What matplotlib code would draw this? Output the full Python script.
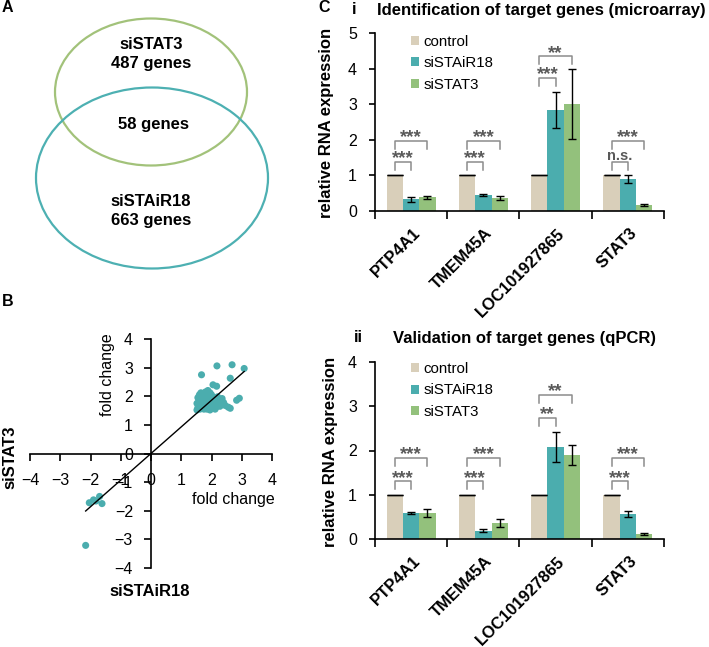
import numpy as np
import matplotlib.pyplot as plt
from matplotlib.patches import Ellipse
from matplotlib.transforms import ScaledTranslation

plt.rcParams['font.family'] = ['Liberation Sans', 'DejaVu Sans']

W, H = 709, 647
DPI = 100

# couleurs
C_CTRL = '#D9CFBA'
C_AIR = '#4BADAE'
C_STAT = '#93C17C'
C_VENN_G = '#A2C27A'
C_VENN_B = '#4DB0B2'
C_SIG = '#595959'

# --- Venn (A) ---
venn_labels = ['siSTAT3', 'siSTAiR18']
venn_counts = [487, 663]
venn_overlap = 58

# --- nuage de points (B) : fold change siSTAiR18 (x) vs siSTAT3 (y) ---
fc_stair18 = [3.08, 2.68, 2.18, 1.67, 2.62, 2.05, 2.17, 2.92, 2.83, 2.62, 2.55,
              1.55, 1.60, 1.65, 1.72, 1.80, 1.88, 1.95, 1.85, 1.75, 1.62, 1.52,
              1.58, 1.55, 1.52, 1.62, 1.70, 1.78, 1.68, 1.90, 1.98, 2.05, 2.10,
              2.02, 1.92, 1.85, 1.95, 2.05, 2.15, 2.22, 2.30, 2.35, 2.40, 2.28,
              2.12, 2.45, 2.20, 1.65, 1.75, 1.82, 1.58, 2.00,
              -1.70, -1.90, -2.04, -1.62, -1.82, -2.16]
fc_stat3 = [2.97, 3.10, 3.06, 2.75, 2.63, 2.40, 2.35, 1.93, 1.86, 1.58, 1.62,
            1.95, 2.05, 2.12, 2.08, 2.15, 2.20, 2.12, 1.98, 1.92, 1.88, 1.75,
            1.70, 1.60, 1.52, 1.55, 1.62, 1.70, 1.78, 1.80, 1.88, 1.95, 1.82,
            1.70, 1.62, 1.55, 1.52, 1.58, 1.62, 1.72, 1.85, 1.92, 1.78, 1.65,
            1.55, 1.68, 1.98, 2.00, 1.55, 1.88, 1.82, 2.05,
            -1.50, -1.62, -1.72, -1.75, -1.66, -3.21]
FIT_SLOPE = 0.93

# --- barres (C) ---
genes = ['PTP4A1', 'TMEM45A', 'LOC101927865', 'STAT3']
groups = ['control', 'siSTAiR18', 'siSTAT3']

micro_ctrl = [1.0, 1.0, 1.0, 1.0]
micro_air = [0.33, 0.45, 2.84, 0.91]
micro_stat = [0.38, 0.37, 3.0, 0.17]
micro_air_err = [0.07, 0.04, 0.51, 0.11]
micro_stat_err = [0.05, 0.05, 0.98, 0.02]
# (hauteur du crochet, texte) : contrôle vs siSTAiR18 puis contrôle vs siSTAT3
micro_sig = [[(1.37, '***'), (1.97, '***')],
             [(1.37, '***'), (1.97, '***')],
             [(3.75, '***'), (4.34, '**')],
             [(1.37, 'n.s.'), (1.97, '***')]]

qpcr_ctrl = [1.0, 1.0, 1.0, 1.0]
qpcr_air = [0.59, 0.19, 2.08, 0.57]
qpcr_stat = [0.58, 0.37, 1.90, 0.12]
qpcr_air_err = [0.03, 0.04, 0.33, 0.07]
qpcr_stat_err = [0.09, 0.09, 0.23, 0.02]
qpcr_sig = [[(1.30, '***'), (1.82, '***')],
            [(1.30, '***'), (1.82, '***')],
            [(2.74, '**'), (3.25, '**')],
            [(1.30, '***'), (1.82, '***')]]


def px_rect(x0, y_top, x1, y_bot):
    """rectangle en pixels (origine en haut à gauche) -> coordonnées figure"""
    return [x0 / W, 1 - y_bot / H, (x1 - x0) / W, (y_bot - y_top) / H]


fig = plt.figure(figsize=(W / DPI, H / DPI), dpi=DPI)

# calque de fond en pixels pour le Venn et les textes
bg = fig.add_axes([0, 0, 1, 1])
bg.set_xlim(0, W)
bg.set_ylim(H, 0)
bg.axis('off')

bg.add_patch(Ellipse((151, 92), 192, 147, fill=False, ec=C_VENN_G, lw=1.6))
bg.add_patch(Ellipse((152, 178), 232, 181, fill=False, ec=C_VENN_B, lw=1.6))
bg.text(151, 54, f"{venn_labels[0]}\n{venn_counts[0]} genes", ha='center', va='center',
        fontsize=12, fontweight='bold', linespacing=1.35)
bg.text(153, 125, f"{venn_overlap} genes", ha='center', va='center',
        fontsize=12, fontweight='bold')
bg.text(151, 211, f"{venn_labels[1]}\n{venn_counts[1]} genes", ha='center', va='center',
        fontsize=12, fontweight='bold', linespacing=1.35)

for lab, x, y in [('A', 2, 8), ('B', 2, 302), ('C', 318, 8)]:
    bg.text(x, y, lab, ha='left', va='center', fontsize=11.5, fontweight='bold')

# --- B ---
axb = fig.add_axes(px_rect(30, 339, 272, 568))
axb.set_xlim(-4, 4)
axb.set_ylim(-4, 4)
axb.set_facecolor('none')
axb.spines['left'].set_position(('data', 0))
axb.spines['bottom'].set_position(('data', 0))
axb.spines['right'].set_visible(False)
axb.spines['top'].set_visible(False)
for s in ['left', 'bottom']:
    axb.spines[s].set_linewidth(1.2)
axb.set_xticks(range(-4, 5))
axb.set_yticks(range(-4, 5))
axb.tick_params(axis='x', direction='out', length=5, width=1.2, pad=9, labelsize=11.5)
axb.tick_params(axis='y', direction='out', length=5, width=1.2, pad=8, labelsize=11.5)
axb.scatter(fc_stair18, fc_stat3, s=26, color=C_AIR, edgecolors='none', zorder=3)
xl = np.array([min(fc_stair18), max(fc_stair18)])
axb.plot(xl, FIT_SLOPE * xl, color='black', lw=1.0, zorder=4)
axb.text(-1.45, 2.75, 'fold change', rotation=90, ha='center', va='center', fontsize=11.5)
axb.text(2.71, -1.61, 'fold change', ha='center', va='center', fontsize=11.5)
bg.text(10, 457, 'siSTAT3', rotation=90, ha='center', va='center', fontsize=12, fontweight='bold')
bg.text(150, 592, 'siSTAiR18', ha='center', va='center', fontsize=12, fontweight='bold')


def bar_panel(ax, ctrl, air, stat, air_err, stat_err, sig, ymax, leg_y):
    x = np.arange(len(genes))
    bw = 0.225
    ax.bar(x - bw, ctrl, bw, color=C_CTRL, label=groups[0])
    ax.bar(x, air, bw, color=C_AIR, label=groups[1])
    ax.bar(x + bw, stat, bw, color=C_STAT, label=groups[2])
    ax.errorbar(x - bw, ctrl, yerr=np.zeros(len(ctrl)), fmt='none', ecolor='black',
                elinewidth=1, capsize=5.8, capthick=1)
    ax.errorbar(x, air, yerr=air_err, fmt='none', ecolor='black', elinewidth=1,
                capsize=3.2, capthick=1)
    ax.errorbar(x + bw, stat, yerr=stat_err, fmt='none', ecolor='black', elinewidth=1,
                capsize=3.2, capthick=1)
    # crochets de significativité
    leg = 8 * ymax / (H * ax.get_position().height)
    for i, pairs in enumerate(sig):
        for k, (yb, txt) in enumerate(pairs):
            x0 = x[i] - bw
            x1 = x[i] if k == 0 else x[i] + bw
            ax.plot([x0, x0, x1, x1], [yb - leg, yb, yb, yb - leg], color='#8c8c8c', lw=1.1)
            if txt == 'n.s.':
                ax.annotate(txt, ((x0 + x1) / 2, yb), xytext=(0, 1.5), textcoords='offset points',
                            ha='center', va='baseline', fontsize=10.5, fontweight='bold',
                            color=C_SIG)
            else:
                ax.annotate(txt, ((x0 + x1) / 2, yb), xytext=(0, -0.8), textcoords='offset points',
                            ha='center', va='baseline', fontsize=13.5, fontweight='bold',
                            color=C_SIG)
    ax.set_xlim(-0.5, len(genes) - 0.5)
    ax.set_ylim(0, ymax)
    ax.set_yticks(range(0, ymax + 1))
    ax.spines['right'].set_visible(False)
    ax.spines['top'].set_visible(False)
    ax.spines['left'].set_linewidth(1.2)
    ax.spines['bottom'].set_linewidth(1.2)
    ax.tick_params(axis='y', direction='out', length=4, width=1.2, pad=9, labelsize=11.5)
    ax.set_xticks(x)
    ax.set_xticks(np.arange(len(genes) + 1) - 0.5, minor=True)
    ax.tick_params(axis='x', which='major', length=0, pad=10.5)
    ax.tick_params(axis='x', which='minor', direction='out', length=6, width=1.2)
    ax.set_xticklabels(genes, rotation=45, ha='right', va='top', rotation_mode='anchor',
                       fontsize=12, fontweight='bold')
    for lab in ax.get_xticklabels():
        lab.set_transform(lab.get_transform() + ScaledTranslation(1 / 72, 0, fig.dpi_scale_trans))
    ax.legend(loc='upper left', bbox_to_anchor=(0.125, leg_y), frameon=False, fontsize=10.8,
              handlelength=0.55, handleheight=0.55, handletextpad=0.3, labelspacing=0.5,
              borderaxespad=0, borderpad=0)
    ax.set_facecolor('none')


ax1 = fig.add_axes(px_rect(375, 33, 664, 211))
bar_panel(ax1, micro_ctrl, micro_air, micro_stat, micro_air_err, micro_stat_err, micro_sig, 5, 0.99)
ax2 = fig.add_axes(px_rect(375, 362, 664, 539))
bar_panel(ax2, qpcr_ctrl, qpcr_air, qpcr_stat, qpcr_air_err, qpcr_stat_err, qpcr_sig, 4, 1.0)

bg.text(326, 123, 'relative RNA expression', rotation=90, ha='center', va='center',
        fontsize=12, fontweight='bold')
bg.text(330, 452, 'relative RNA expression', rotation=90, ha='center', va='center',
        fontsize=12, fontweight='bold')
bg.text(352, 10, 'i', ha='left', va='center', fontsize=12, fontweight='bold')
bg.text(377, 10, 'Identification of target genes (microarray)', ha='left', va='center',
        fontsize=12, fontweight='bold')
bg.text(354, 338, 'ii', ha='left', va='center', fontsize=12, fontweight='bold')
bg.text(393, 338, 'Validation of target genes (qPCR)', ha='left', va='center',
        fontsize=12, fontweight='bold')

fig.savefig('out.png', dpi=DPI)
